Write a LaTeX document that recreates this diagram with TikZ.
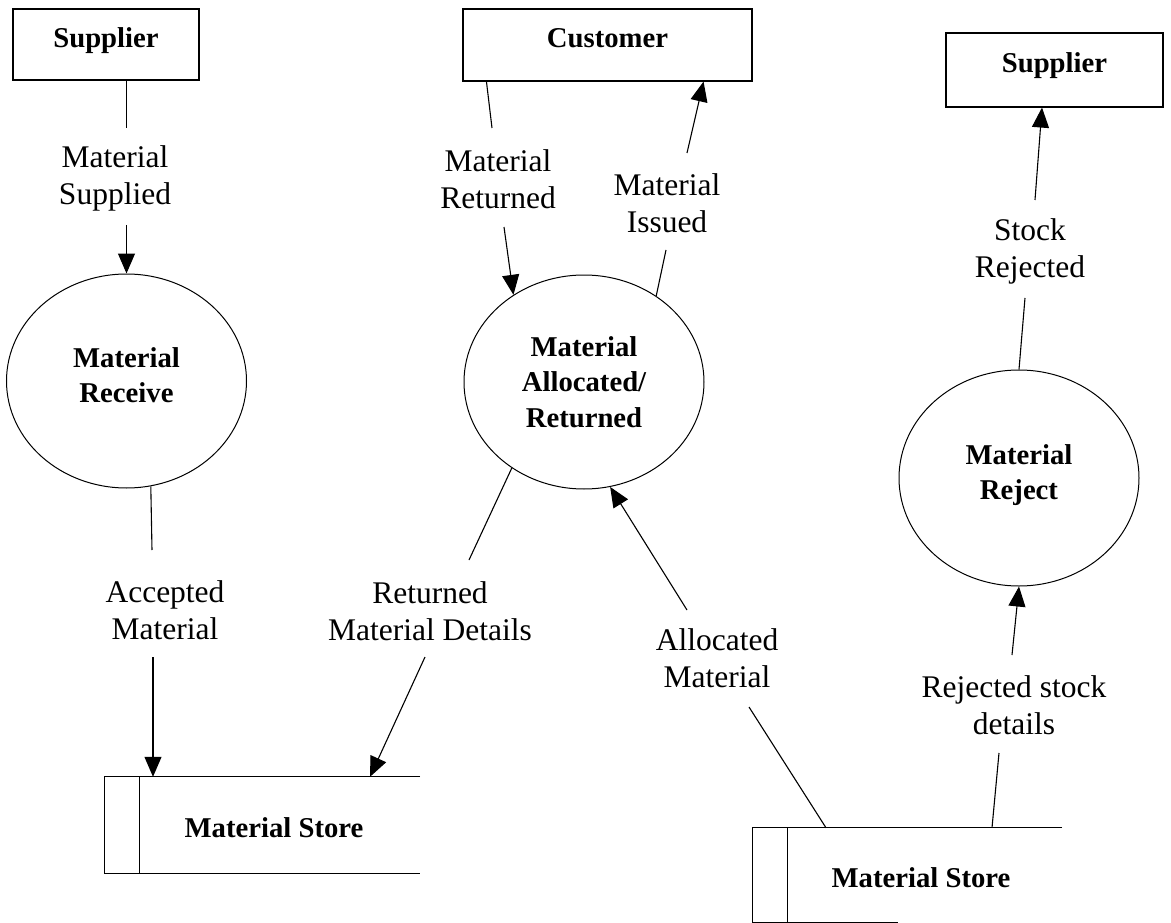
\documentclass[tikz,border=0pt]{standalone}
\usepackage{fontspec}
\setmainfont{Liberation Serif}
\usetikzlibrary{shapes.geometric,arrows.meta}
\newcommand{\dfdlab}{\fontsize{31.5}{37}\selectfont}
\newcommand{\dfdbold}{\fontsize{28.7}{35.5}\selectfont\bfseries}
\begin{document}
\begin{tikzpicture}[x=1pt,y=-1pt,
  lw/.style={line width=1.1pt},
  flow/.style={line width=1.1pt,-{Triangle[length=20pt,width=17pt]}},
  entity/.style={draw,line width=1.1pt,inner sep=0pt,font=\dfdbold,text height=20pt,text depth=14pt},
  process/.style={ellipse,draw,line width=1pt,inner sep=0pt,minimum width=240pt,align=center,font=\dfdbold},
  lbl/.style={inner sep=0pt,align=center,font=\dfdlab},
  storeframe/.style={inner sep=0pt},
  storetext/.style={inner sep=0pt,font=\dfdbold}]
\useasboundingbox (0,0) rectangle (1171,923);

% external entities
\node[entity,minimum width=186pt,minimum height=71pt] (sup1) at (106,44.5) {Supplier};
\node[entity,minimum width=289pt,minimum height=72pt] (cust) at (607.5,45) {Customer};
\node[entity,minimum width=217pt,minimum height=74pt] (sup2) at (1054.5,70) {Supplier};

% processes
\node[process,minimum height=214pt,text depth=12pt] (rec) at (126.5,381) {Material\\Receive};
\node[process,minimum height=214pt] (alloc) at (584,382) {Material\\Allocated/\\Returned};
\node[process,minimum height=216pt,text depth=12pt] (rej) at (1019,478) {Material\\Reject};

% data stores
\node[storeframe,minimum width=315pt,minimum height=96pt] (st1) at (262.5,825) {};
\node[storetext] (st1t) at (274,828) {Material Store};
\node[storeframe,minimum width=309pt,minimum height=94pt] (st2) at (907.5,875) {};
\node[storetext] (st2t) at (921,878) {Material Store};
\draw[lw] (st1.north east) -- (st1.north west) -- (st1.south west) -- (st1.south east);
\draw[lw] ([xshift=35pt]st1.north west) -- ([xshift=35pt]st1.south west);
\draw[lw] (st2.north east) -- (st2.north west) -- (st2.south west) -- ([xshift=145pt]st2.south west);
\draw[lw] ([xshift=35pt]st2.north west) -- ([xshift=35pt]st2.south west);

% flow labels
\node[lbl] (l1) at (115,178.5) {Material\\Supplied};
\node[lbl] (l2) at (498,179) {Material\\Returned};
\node[lbl] (l3) at (667,203.5) {Material\\Issued};
\node[lbl] (l4) at (1030,251.5) {Stock\\Rejected};
\node[lbl] (l5) at (165,610.5) {Accepted\\Material};
\node[lbl] (l6) at (430,611) {Returned\\Material Details};
\node[lbl] (l7) at (717,658.5) {Allocated\\Material};
\node[lbl] (l8) at (1014,705.5) {Rejected stock\\details};

% free ends of flow segments
\coordinate (a1) at (126.5,128);
\coordinate (a2) at (126.5,225);
\coordinate (a3) at (152,550);
\coordinate (a4) at (153,657);
\coordinate (a5) at (492,128);
\coordinate (a6) at (504,227);
\coordinate (a7) at (666,250);
\coordinate (a8) at (687,153);
\coordinate (a9) at (469,560);
\coordinate (a10) at (425,657);
\coordinate (a11) at (687,610);
\coordinate (a12) at (749,707);
\coordinate (a13) at (999,753);
\coordinate (a14) at (1012,655);
\coordinate (a15) at (1025,298);
\coordinate (a16) at (1035,200);

% flows
\draw[lw] (a1 |- sup1.south) -- (a1);
\draw[flow] (a2) -- (rec.north);
\draw[lw] (rec.-77) -- (a3);
\draw[flow] (a4) -- (a4 |- st1.north);
\draw[lw] ([xshift=24pt]cust.south west) -- (a5);
\draw[flow] (a6) -- (alloc.129);
\draw[lw] (alloc.50) -- (a7);
\draw[flow] (a8) -- ([xshift=-49pt]cust.south east);
\draw[lw] (alloc.-130) -- (a9);
\draw[flow] (a10) -- ([xshift=107.5pt]st1.north);
\draw[flow] (a11) -- (alloc.-76.5);
\draw[lw] (a12) -- ([xshift=-81.5pt]st2.north);
\draw[lw] ([xshift=84.5pt]st2.north) -- (a13);
\draw[flow] (a14) -- (rej.south);
\draw[lw] (rej.north) -- (a15);
\draw[flow] (a16) -- ([xshift=-12.5pt]sup2.south);
\end{tikzpicture}
\end{document}
